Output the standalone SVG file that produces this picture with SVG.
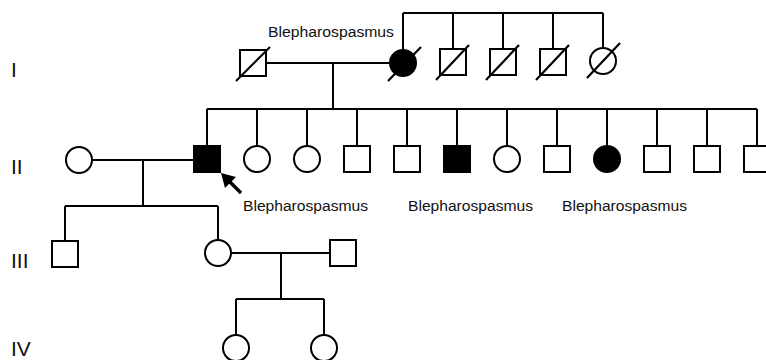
<svg xmlns="http://www.w3.org/2000/svg" width="766" height="360" viewBox="0 0 766 360">
  <style>
    .ln { stroke: #000; stroke-width: 2; fill: none; }
    .m { fill: #fff; stroke: #000; stroke-width: 2; }
    .a { fill: #000; stroke: #000; stroke-width: 2; }
    .d { stroke: #000; stroke-width: 2.2; fill: none; }
    .lbl { font-family: "Liberation Sans", Arial, sans-serif; font-size: 15.5px; fill: #111; }
    .gen { font-family: "Liberation Sans", Arial, sans-serif; font-size: 21px; fill: #111; }
  </style>

  <!-- generation numerals -->
  <g id="generations">
    <text class="gen" x="11" y="77">I</text>
    <text class="gen" x="11" y="174">II</text>
    <text class="gen" x="11" y="268">III</text>
    <text class="gen" x="11" y="356">IV</text>
  </g>

  <!-- lines of descent and marriage -->
  <g id="connectors">
    <!-- I: couple and sibship of I-2 -->
    <path class="ln" d="M266 63 H390"/>
    <path class="ln" d="M333 63 V109"/>
    <path class="ln" d="M403 13 H603 M403 13 V50 M453 13 V49 M503 13 V49 M553 13 V49 M603 13 V48"/>
    <!-- II sibship -->
    <path class="ln" d="M207 109 H757"/>
    <path class="ln" d="M207 109 V146 M257 109 V146 M307 109 V146 M357 109 V146 M407 109 V146 M457 109 V146 M507 109 V146 M557 109 V146 M607 109 V146 M657 109 V146 M707 109 V146 M757 109 V146"/>
    <!-- II couple -->
    <path class="ln" d="M92 160 H193"/>
    <path class="ln" d="M143 160 V206"/>
    <path class="ln" d="M65 206 H218 M65 206 V241 M218 206 V240"/>
    <!-- III couple -->
    <path class="ln" d="M231 253 H330"/>
    <path class="ln" d="M281 253 V299"/>
    <path class="ln" d="M236 299 H324 M236 299 V335 M324 299 V335"/>
  </g>

  <!-- generation I -->
  <g id="I-1">
    <rect class="m" x="240" y="50" width="26" height="26"/>
    <path class="d" d="M236 81 L270 47"/>
  </g>
  <g id="I-2">
    <circle class="a" cx="403" cy="63" r="13"/>
    <path class="d" d="M388 81 L421 47"/>
  </g>
  <g id="I-3">
    <rect class="m" x="440" y="49" width="26" height="26"/>
    <path class="d" d="M436 80 L469 45"/>
  </g>
  <g id="I-4">
    <rect class="m" x="490" y="49" width="26" height="26"/>
    <path class="d" d="M486 80 L519 45"/>
  </g>
  <g id="I-5">
    <rect class="m" x="540" y="49" width="26" height="26"/>
    <path class="d" d="M536 80 L569 45"/>
  </g>
  <g id="I-6">
    <circle class="m" cx="603" cy="61" r="13"/>
    <path class="d" d="M587 78 L620 43"/>
  </g>
  <text class="lbl" x="268" y="37" textLength="126" lengthAdjust="spacingAndGlyphs">Blepharospasmus</text>

  <!-- generation II -->
  <g id="II-1"><circle class="m" cx="79" cy="160" r="13"/></g>
  <g id="II-2">
    <rect class="a" x="194" y="146" width="26" height="26"/>
    <!-- proband arrow -->
    <path d="M241 193 L229 181" stroke="#000" stroke-width="3.4" fill="none"/>
    <polygon points="221,173 236,177 225,188" fill="#000"/>
  </g>
  <g id="II-3"><circle class="m" cx="257" cy="159" r="13"/></g>
  <g id="II-4"><circle class="m" cx="307" cy="159" r="13"/></g>
  <g id="II-5"><rect class="m" x="344" y="146" width="26" height="26"/></g>
  <g id="II-6"><rect class="m" x="394" y="146" width="26" height="26"/></g>
  <g id="II-7"><rect class="a" x="444" y="146" width="26" height="26"/></g>
  <g id="II-8"><circle class="m" cx="507" cy="159" r="13"/></g>
  <g id="II-9"><rect class="m" x="544" y="146" width="26" height="26"/></g>
  <g id="II-10"><circle class="a" cx="607" cy="159" r="13"/></g>
  <g id="II-11"><rect class="m" x="644" y="146" width="26" height="26"/></g>
  <g id="II-12"><rect class="m" x="694" y="146" width="26" height="26"/></g>
  <g id="II-13"><rect class="m" x="744" y="146" width="26" height="26"/></g>
  <text class="lbl" x="243" y="211" textLength="125" lengthAdjust="spacingAndGlyphs">Blepharospasmus</text>
  <text class="lbl" x="408" y="211" textLength="125" lengthAdjust="spacingAndGlyphs">Blepharospasmus</text>
  <text class="lbl" x="562" y="211" textLength="125" lengthAdjust="spacingAndGlyphs">Blepharospasmus</text>

  <!-- generation III -->
  <g id="III-1"><rect class="m" x="52" y="241" width="26" height="26"/></g>
  <g id="III-2"><circle class="m" cx="218" cy="253" r="13"/></g>
  <g id="III-3"><rect class="m" x="330" y="240" width="26" height="26"/></g>

  <!-- generation IV -->
  <g id="IV-1"><circle class="m" cx="236" cy="348" r="13"/></g>
  <g id="IV-2"><circle class="m" cx="324" cy="348" r="13"/></g>
</svg>
